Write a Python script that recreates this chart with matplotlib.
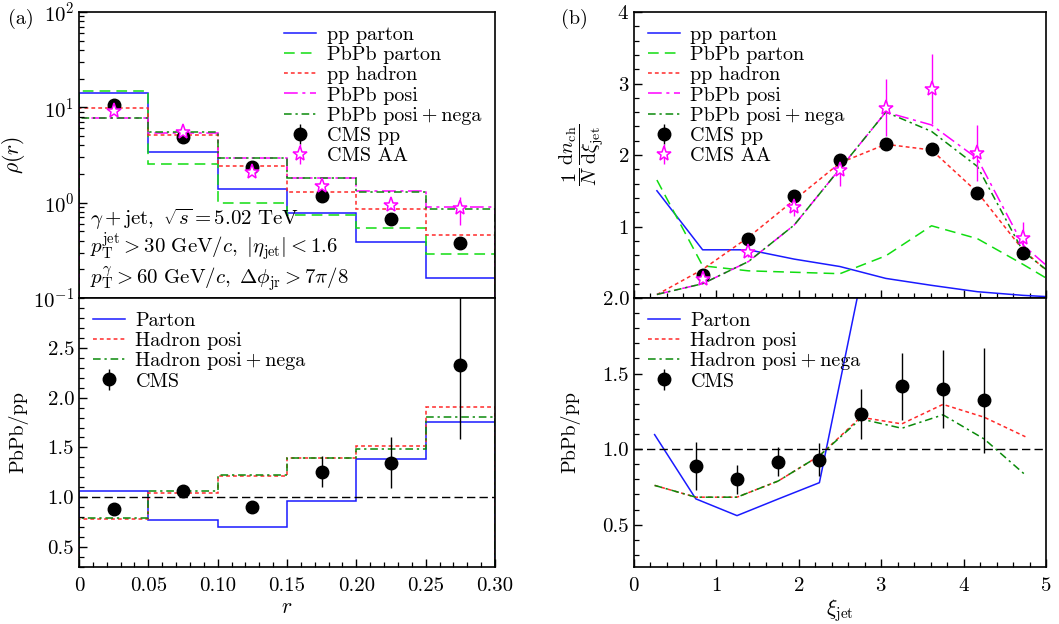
import numpy as np
import matplotlib
matplotlib.use("Agg")
import matplotlib.pyplot as plt
from matplotlib.ticker import MultipleLocator, FormatStrFormatter, FixedLocator, LogLocator, NullFormatter

plt.rcParams['font.family'] = ['cmr10', 'DejaVu Serif']
plt.rcParams['mathtext.fontset'] = 'cm'
plt.rcParams['axes.formatter.use_mathtext'] = True
plt.rcParams['axes.unicode_minus'] = False

# ---------------- (a) jet shape ----------------
r_edges = [0.0, 0.05, 0.10, 0.15, 0.20, 0.25, 0.30]
r_centers = [0.025, 0.075, 0.125, 0.175, 0.225, 0.275]

rho_pp_parton = [14.0, 3.37, 1.39, 0.77, 0.39, 0.163]
rho_pbpb_parton = [14.9, 2.56, 0.99, 0.74, 0.54, 0.286]
rho_pp_hadron = [9.9, 5.16, 2.44, 1.29, 0.86, 0.46]
rho_pbpb_posi = [7.78, 5.42, 2.96, 1.80, 1.31, 0.89]
rho_pbpb_posinega = [7.80, 5.50, 2.95, 1.80, 1.30, 0.85]
rho_cms_pp = [10.6, 4.92, 2.38, 1.17, 0.68, 0.374]
rho_cms_aa = [9.15, 5.47, 2.08, 1.51, 0.94, 0.87]
rho_cms_aa_err = [0.3, 0.2, 0.1, 0.1, 0.08, 0.28]

ratio_r_parton = [1.067, 0.767, 0.70, 0.96, 1.387, 1.757]
ratio_r_posi = [0.78, 1.043, 1.21, 1.397, 1.517, 1.903]
ratio_r_posinega = [0.793, 1.067, 1.223, 1.393, 1.487, 1.807]
ratio_r_cms = [0.887, 1.067, 0.90, 1.257, 1.347, 2.33]
ratio_r_cms_err = [0.04, 0.03, 0.05, 0.155, 0.255, 0.75]

# ---------------- (b) fragmentation function ----------------
xi_top = [0.278, 0.833, 1.389, 1.944, 2.5, 3.056, 3.611, 4.167, 4.722, 5.0]
ff_pp_parton = [1.50, 0.674, 0.674, 0.544, 0.44, 0.274, 0.177, 0.088, 0.037, 0.02]
ff_pbpb_parton = [1.65, 0.45, 0.38, 0.36, 0.34, 0.59, 1.01, 0.83, 0.47, 0.28]
ff_pp_hadron = [0.047, 0.40, 0.85, 1.37, 1.89, 2.15, 2.07, 1.48, 0.67, 0.39]
ff_pbpb_posi = [0.05, 0.20, 0.51, 1.02, 1.81, 2.60, 2.42, 1.95, 0.74, 0.46]
ff_pbpb_posinega = [0.05, 0.20, 0.51, 1.02, 1.81, 2.60, 2.33, 1.84, 0.65, 0.40]

xi_cms = [0.833, 1.389, 1.944, 2.5, 3.056, 3.611, 4.167, 4.722]
ff_cms_pp = [0.32, 0.82, 1.42, 1.93, 2.16, 2.08, 1.47, 0.63]
ff_cms_pp_err = [0.03, 0.04, 0.05, 0.06, 0.07, 0.07, 0.06, 0.05]
ff_cms_aa = [0.27, 0.65, 1.27, 1.79, 2.66, 2.92, 2.03, 0.84]
ff_cms_aa_err = [0.05, 0.08, 0.12, 0.22, 0.40, 0.49, 0.39, 0.22]

xi_ratio = [0.25, 0.75, 1.25, 1.75, 2.25, 2.75, 3.25, 3.75, 4.25, 4.75]
ratio_xi_parton = [1.096, 0.671, 0.56, 0.67, 0.778, 2.11]
ratio_xi_posi = [0.76, 0.682, 0.682, 0.789, 0.956, 1.211, 1.167, 1.296, 1.211, 1.082]
ratio_xi_posinega = [0.76, 0.682, 0.682, 0.789, 0.956, 1.20, 1.138, 1.227, 1.067, 0.829]

xi_ratio_cms = [0.75, 1.25, 1.75, 2.25, 2.75, 3.25, 3.75, 4.25]
ratio_xi_cms = [0.889, 0.80, 0.916, 0.929, 1.233, 1.416, 1.396, 1.322]
ratio_xi_cms_err = [0.16, 0.097, 0.095, 0.11, 0.165, 0.22, 0.257, 0.35]

# ---------------- styles ----------------
C_BLUE = '#1a1aff'
C_LGREEN = '#11dd11'
C_RED = '#ff2a2a'
C_MAG = '#ff00ff'
C_DGREEN = '#0a8a0a'
LS_BLUE = '-'
LS_LGREEN = (0, (7, 4))
LS_RED = (0, (2.5, 2))
LS_MAG = (0, (9, 3, 2, 3))
LS_DGREEN = (0, (5, 2.5, 1.5, 2.5))
LW = 1.1
FS = 14.5
TFS = 15
AFS = 15
PLUS = '\u2009+\u2009'

fig = plt.figure(figsize=(10.59, 6.24), dpi=100)
W, H = 1059.0, 624.0

def axes_px(x0, x1, y0, y1):
    return fig.add_axes([x0 / W, 1 - y1 / H, (x1 - x0) / W, (y1 - y0) / H])

axA = axes_px(79, 495, 12, 298)
axA2 = axes_px(79, 495, 298, 567)
axB = axes_px(634, 1046, 12, 298)
axB2 = axes_px(634, 1046, 298, 567)

LEG = dict(frameon=False, fontsize=FS, handlelength=1.6, handletextpad=0.5,
           labelspacing=0.1, borderaxespad=0.3)

def style(ax):
    ax.tick_params(which='both', direction='in', top=False, right=False, labelsize=TFS)
    ax.tick_params(which='major', length=6, width=1.0)
    ax.tick_params(which='minor', length=3.5, width=0.9)
    for s in ax.spines.values():
        s.set_linewidth(1.2)

# ---- (a) top ----
ax = axA
ax.set_yscale('log')
ax.stairs(rho_pp_parton, r_edges, color=C_BLUE, ls=LS_BLUE, lw=LW, label='pp parton')
ax.stairs(rho_pbpb_parton, r_edges, color=C_LGREEN, ls=LS_LGREEN, lw=LW, label='PbPb parton')
ax.stairs(rho_pp_hadron, r_edges, color=C_RED, ls=LS_RED, lw=LW, label='pp hadron')
ax.stairs(rho_pbpb_posi, r_edges, color=C_MAG, ls=LS_MAG, lw=LW, label='PbPb posi')
ax.stairs(rho_pbpb_posinega, r_edges, color=C_DGREEN, ls=LS_DGREEN, lw=LW, label='PbPb posi' + PLUS + 'nega')
ax.errorbar(r_centers, rho_cms_pp, yerr=[v * 0.04 for v in rho_cms_pp], fmt='o', color='black',
            ms=9, elinewidth=1.0, capsize=0, label='CMS pp')
ax.errorbar(r_centers, rho_cms_aa, yerr=rho_cms_aa_err, fmt='*', color=C_MAG, mfc='white', mec=C_MAG,
            ms=11, mew=1.1, elinewidth=1.0, capsize=0, label='CMS AA')
ax.set_xlim(0, 0.30)
ax.set_ylim(0.1, 100)
ax.yaxis.set_major_locator(LogLocator(base=10, numticks=10))
ax.yaxis.set_minor_locator(LogLocator(base=10, subs=np.arange(2, 10), numticks=20))
ax.yaxis.set_minor_formatter(NullFormatter())
ax.xaxis.set_major_locator(MultipleLocator(0.05))
ax.xaxis.set_minor_locator(MultipleLocator(0.01))
ax.set_xticklabels([])
style(ax)
ax.tick_params(axis='x', which='both', length=0)
ax.set_ylabel(r'$\rho(r)$', fontsize=FS + 1, labelpad=4)
ax.legend(loc='upper right', **LEG)
ax.text(0.026, 0.255, r'$\gamma+\mathrm{jet},\ \sqrt{s}=5.02\ \mathrm{TeV}$',
        transform=ax.transAxes, fontsize=AFS, va='baseline')
ax.text(0.026, 0.155, r'$p_{\mathrm{T}}^{\mathrm{jet}}>30\ \mathrm{GeV}/c,\ |\eta_{\mathrm{jet}}|<1.6$',
        transform=ax.transAxes, fontsize=AFS, va='baseline')
ax.text(0.026, 0.048, r'$p_{\mathrm{T}}^{\gamma}>60\ \mathrm{GeV}/c,\ \Delta\phi_{\mathrm{jr}}>7\pi/8$',
        transform=ax.transAxes, fontsize=AFS, va='baseline')
fig.text(8 / W, 1 - 24 / H, '(a)', fontsize=FS)

# ---- (a) bottom ----
ax = axA2
ax.stairs(ratio_r_parton, r_edges, color=C_BLUE, ls=LS_BLUE, lw=LW, label='Parton')
ax.stairs(ratio_r_posi, r_edges, color=C_RED, ls=LS_RED, lw=LW, label='Hadron posi')
ax.stairs(ratio_r_posinega, r_edges, color=C_DGREEN, ls=LS_DGREEN, lw=LW, label='Hadron posi' + PLUS + 'nega')
ax.errorbar(r_centers, ratio_r_cms, yerr=ratio_r_cms_err, fmt='o', color='black', ms=9,
            elinewidth=1.0, capsize=0, label='CMS')
ax.axhline(1.0, color='black', ls=(0, (6, 3)), lw=1.0)
ax.set_xlim(0, 0.30)
ax.set_ylim(0.3, 3.0)
ax.yaxis.set_major_locator(FixedLocator([0.5, 1.0, 1.5, 2.0, 2.5]))
ax.yaxis.set_major_formatter(FormatStrFormatter('%.1f'))
ax.yaxis.set_minor_locator(MultipleLocator(0.1))
ax.xaxis.set_minor_locator(MultipleLocator(0.01))
ax.set_xticks([0, 0.05, 0.10, 0.15, 0.20, 0.25, 0.30])
ax.set_xticklabels(['0', '0.05', '0.10', '0.15', '0.20', '0.25', '0.30'])
style(ax)
ax.tick_params(axis='x', pad=7)
ax.set_xlabel(r'$r$', fontsize=FS + 1, labelpad=2)
ax.set_ylabel('PbPb/pp', fontsize=FS, labelpad=14)
ax.legend(loc='upper left', **LEG)

# ---- (b) top ----
ax = axB
ax.plot(xi_top, ff_pp_parton, color=C_BLUE, ls=LS_BLUE, lw=LW, label='pp parton')
ax.plot(xi_top, ff_pbpb_parton, color=C_LGREEN, ls=LS_LGREEN, lw=LW, label='PbPb parton')
ax.plot(xi_top, ff_pp_hadron, color=C_RED, ls=LS_RED, lw=LW, label='pp hadron')
ax.plot(xi_top, ff_pbpb_posi, color=C_MAG, ls=LS_MAG, lw=LW, label='PbPb posi')
ax.plot(xi_top, ff_pbpb_posinega, color=C_DGREEN, ls=LS_DGREEN, lw=LW, label='PbPb posi' + PLUS + 'nega')
ax.errorbar(xi_cms, ff_cms_pp, yerr=ff_cms_pp_err, fmt='o', color='black', ms=9,
            elinewidth=1.0, capsize=0, label='CMS pp')
ax.errorbar(xi_cms, ff_cms_aa, yerr=ff_cms_aa_err, fmt='*', color=C_MAG, mfc='white', mec=C_MAG,
            ms=11, mew=1.1, elinewidth=1.0, capsize=0, label='CMS AA')
ax.set_xlim(0, 5)
ax.set_ylim(0, 4)
ax.yaxis.set_major_locator(FixedLocator([1, 2, 3, 4]))
ax.yaxis.set_minor_locator(MultipleLocator(0.2))
ax.xaxis.set_major_locator(MultipleLocator(1))
ax.xaxis.set_minor_locator(MultipleLocator(0.2))
ax.set_xticklabels([])
style(ax)
ax.set_ylabel(r'$\dfrac{1}{N}\,\dfrac{\mathrm{d}n_{\mathrm{ch}}}{\mathrm{d}\xi_{\mathrm{jet}}}$',
              fontsize=FS, labelpad=8)
ax.legend(loc='upper left', **LEG)
fig.text(561 / W, 1 - 24 / H, '(b)', fontsize=FS)

# ---- (b) bottom ----
ax = axB2
ax.plot(xi_ratio[:len(ratio_xi_parton)], ratio_xi_parton, color=C_BLUE, ls=LS_BLUE, lw=LW, label='Parton')
ax.plot(xi_ratio, ratio_xi_posi, color=C_RED, ls=LS_RED, lw=LW, label='Hadron posi')
ax.plot(xi_ratio, ratio_xi_posinega, color=C_DGREEN, ls=LS_DGREEN, lw=LW, label='Hadron posi' + PLUS + 'nega')
ax.errorbar(xi_ratio_cms, ratio_xi_cms, yerr=ratio_xi_cms_err, fmt='o', color='black', ms=9,
            elinewidth=1.0, capsize=0, label='CMS')
ax.axhline(1.0, color='black', ls=(0, (6, 3)), lw=1.0)
ax.set_xlim(0, 5)
ax.set_ylim(0.22, 2.0)
ax.yaxis.set_major_locator(FixedLocator([0.5, 1.0, 1.5, 2.0]))
ax.yaxis.set_major_formatter(FormatStrFormatter('%.1f'))
ax.yaxis.set_minor_locator(MultipleLocator(0.1))
ax.xaxis.set_major_locator(MultipleLocator(1))
ax.xaxis.set_minor_locator(MultipleLocator(0.2))
style(ax)
ax.tick_params(axis='x', pad=7)
ax.set_xlabel(r'$\xi_{\mathrm{jet}}$', fontsize=FS + 1, labelpad=2)
ax.set_ylabel('PbPb/pp', fontsize=FS, labelpad=16)
ax.legend(loc='upper left', **LEG)

fig.savefig('out.png', dpi=100)
